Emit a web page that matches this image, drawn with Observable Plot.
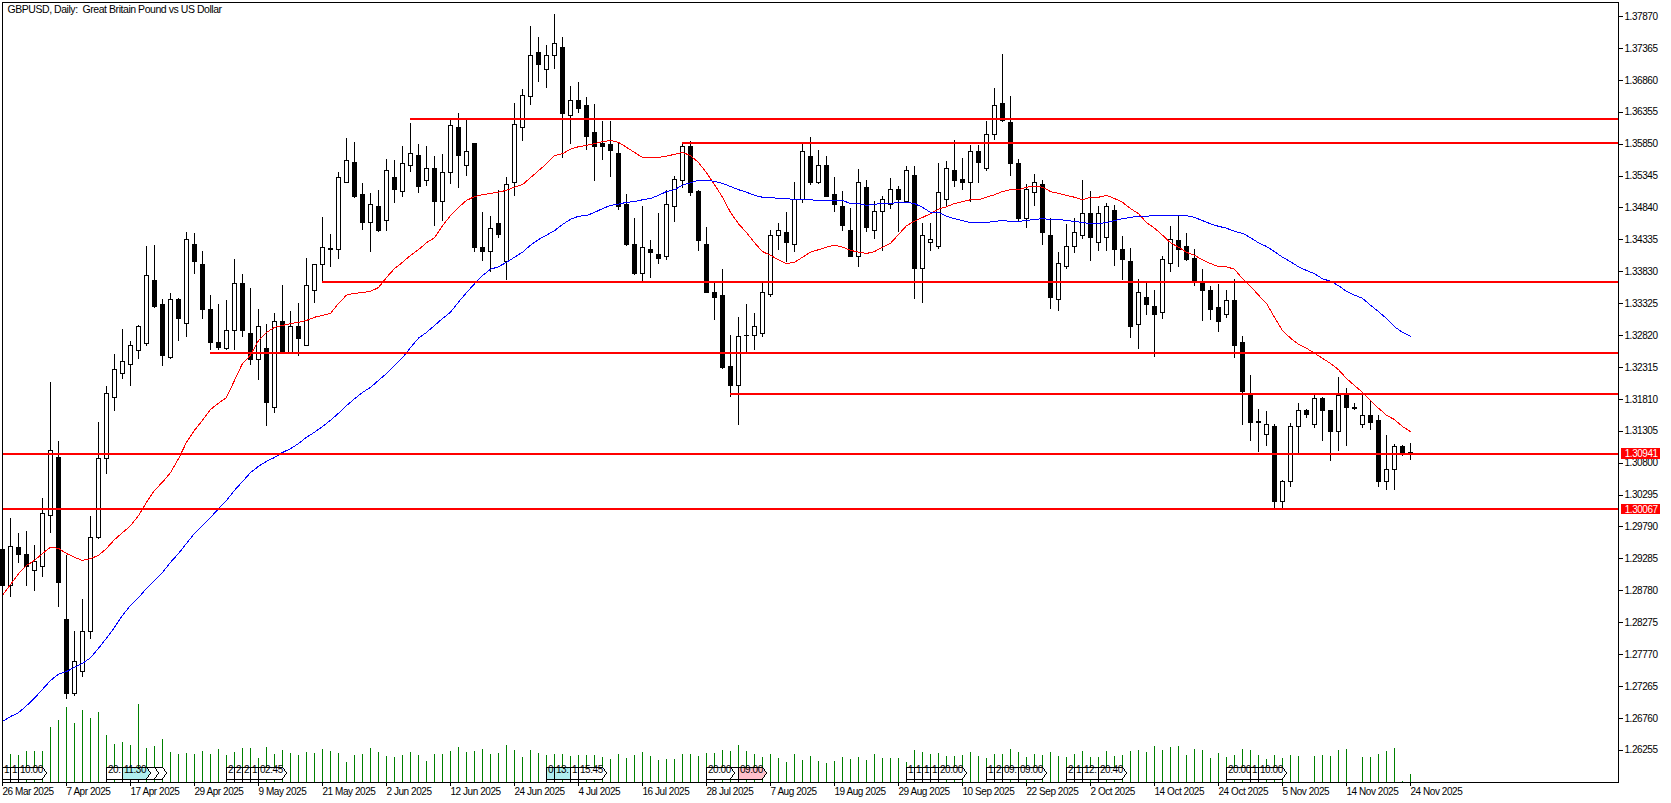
<!DOCTYPE html>
<html>
<head>
<meta charset="utf-8">
<style>
html,body{margin:0;padding:0;background:#fff;}
svg text{white-space:pre;letter-spacing:-0.45px;}
</style>
<script src="https://cdn.jsdelivr.net/npm/d3@7"></script>
<script src="https://cdn.jsdelivr.net/npm/@observablehq/plot@0.6"></script>
</head>
<body>
<div id="chart"></div>
<script>
// Daily GBPUSD, all prices in pips (1e-4 USD)
const opensPips=[
12942,12885,12945,12934,12910,12915,12996,13089,12831,12714,
12749,12812,12962,13086,13183,13221,13235,13257,13268,13368,
13330,13247,13338,13301,13425,13393,13323,13271,13260,13290,
13363,13285,13244,13260,13167,13303,13255,13296,13266,13352,
13393,13418,13418,13523,13556,13504,13461,13485,13464,13532,
13510,13551,13566,13526,13545,13493,13540,13611,13551,13586,
13421,13415,13459,13399,13523,13611,13659,13729,13702,13725,
13738,13630,13654,13645,13603,13585,13583,13570,13488,13426,
13379,13418,13410,13407,13486,13526,13580,13509,13425,13350,
13344,13232,13202,13281,13281,13285,13347,13439,13445,13426,
13497,13564,13523,13551,13504,13485,13448,13406,13516,13448,
13478,13488,13512,13493,13534,13387,13429,13422,13496,13543,
13528,13523,13572,13545,13599,13649,13619,13554,13467,13507,
13521,13439,13338,13390,13422,13439,13475,13429,13437,13480,
13418,13398,13298,13342,13328,13317,13395,13431,13423,13404,
13366,13352,13325,13315,13336,13270,13187,13145,13125,13138,
13018,13050,13137,13163,13140,13181,13162,13130,13186,13168,
13141,13154,13146,13050,13070,13105,13096];
const highsPips=[
12950,12993,12969,12972,12949,13024,13208,13114,12934,12814,
12864,12996,13145,13202,13252,13292,13273,13298,13423,13425,
13339,13349,13341,13445,13444,13415,13346,13331,13338,13402,
13379,13357,13323,13300,13317,13361,13320,13333,13404,13395,
13469,13442,13540,13594,13588,13523,13507,13512,13561,13559,
13581,13618,13585,13581,13566,13569,13623,13634,13623,13586,
13477,13471,13512,13532,13649,13672,13771,13754,13741,13790,
13754,13676,13683,13659,13648,13621,13621,13586,13505,13467,
13486,13433,13475,13512,13534,13586,13589,13512,13453,13364,
13387,13282,13311,13331,13317,13366,13448,13459,13477,13524,
13586,13596,13575,13566,13532,13510,13483,13545,13528,13494,
13502,13531,13518,13550,13550,13459,13459,13554,13558,13591,
13562,13583,13583,13621,13673,13727,13661,13561,13521,13537,
13528,13467,13414,13458,13467,13528,13510,13486,13491,13488,
13439,13420,13371,13368,13353,13407,13455,13472,13444,13418,
13387,13360,13363,13353,13371,13281,13219,13165,13162,13141,
13053,13143,13175,13165,13189,13184,13162,13216,13198,13175,
13192,13178,13156,13124,13110,13108,13111];
const lowsPips=[
12863,12867,12921,12885,12877,12899,12969,12852,12706,12711,
12741,12801,12959,13062,13162,13212,13202,13244,13265,13325,
13233,13244,13273,13279,13379,13308,13258,13258,13258,13258,
13279,13235,13211,13138,13159,13254,13252,13249,13266,13333,
13368,13390,13402,13523,13499,13448,13414,13445,13447,13491,
13501,13540,13507,13518,13455,13463,13521,13515,13534,13414,
13399,13382,13436,13369,13502,13589,13646,13683,13673,13703,
13562,13585,13634,13575,13526,13559,13532,13480,13423,13377,
13364,13372,13395,13401,13461,13515,13502,13415,13350,13306,
13228,13184,13140,13254,13258,13279,13342,13417,13398,13414,
13491,13520,13521,13501,13477,13447,13406,13390,13445,13434,
13415,13482,13445,13493,13339,13333,13415,13418,13485,13516,
13512,13493,13523,13542,13591,13619,13534,13463,13452,13486,
13425,13323,13320,13387,13412,13434,13399,13415,13415,13391,
13369,13277,13260,13314,13247,13308,13382,13390,13399,13360,
13304,13306,13287,13309,13246,13140,13114,13097,13106,13008,
13008,13042,13095,13151,13135,13114,13083,13099,13106,13163,
13135,13132,13042,13037,13037,13091,13084];
const closesPips=[
12885,12948,12934,12915,12923,12999,13099,12890,12714,12765,
12812,12962,13086,13189,13227,13240,13265,13295,13377,13328,
13249,13339,13308,13434,13399,13322,13270,13263,13290,13363,
13289,13243,13296,13175,13304,13255,13296,13276,13361,13393,
13420,13419,13532,13558,13501,13461,13488,13448,13543,13512,
13553,13569,13518,13545,13493,13539,13613,13567,13572,13420,
13415,13450,13442,13521,13615,13662,13725,13710,13725,13743,
13632,13654,13640,13597,13581,13581,13575,13485,13425,13379,
13420,13412,13404,13488,13529,13580,13507,13431,13350,13342,
13230,13202,13279,13282,13295,13349,13439,13448,13429,13497,
13573,13524,13551,13501,13488,13455,13407,13523,13452,13478,
13497,13512,13497,13543,13387,13439,13433,13507,13545,13526,
13524,13572,13556,13599,13646,13621,13554,13466,13512,13523,
13444,13341,13396,13423,13444,13475,13436,13474,13485,13417,
13401,13295,13350,13330,13315,13401,13433,13418,13402,13366,
13352,13323,13303,13336,13266,13192,13143,13144,13140,13018,
13050,13137,13163,13157,13181,13162,13130,13186,13167,13165,
13154,13144,13050,13070,13105,13095,13095];
const fastMAPips=[
12871,12888,12905,12918,12926,12937,12947,12945,12937,12931,
12926,12929,12934,12945,12959,12970,12981,12997,13018,13037,
13050,13065,13087,13113,13132,13148,13165,13175,13184,13211,
13238,13251,13274,13287,13295,13298,13301,13303,13306,13311,
13314,13317,13333,13346,13349,13350,13352,13358,13374,13388,
13398,13409,13418,13429,13437,13456,13472,13485,13496,13502,
13505,13507,13509,13512,13517,13521,13532,13543,13554,13567,
13570,13577,13581,13583,13586,13589,13591,13588,13580,13572,
13564,13564,13564,13566,13569,13572,13567,13556,13540,13521,
13501,13477,13459,13445,13429,13415,13409,13402,13396,13398,
13406,13414,13418,13422,13425,13422,13417,13414,13412,13415,
13422,13428,13442,13456,13463,13469,13475,13482,13486,13491,
13494,13497,13497,13501,13505,13510,13513,13513,13517,13518,
13517,13510,13507,13504,13501,13497,13501,13501,13504,13499,
13493,13483,13475,13461,13452,13441,13429,13422,13414,13409,
13402,13396,13391,13391,13387,13372,13360,13346,13333,13311,
13290,13278,13268,13262,13254,13246,13238,13228,13214,13203,
13192,13179,13167,13156,13149,13138,13130];
const slowMAPips=[
12671,12679,12685,12696,12708,12722,12736,12746,12750,12757,
12763,12772,12787,12803,12820,12839,12855,12867,12882,12894,
12907,12923,12937,12953,12969,12981,12994,13008,13021,13037,
13051,13065,13075,13083,13089,13097,13103,13111,13121,13129,
13138,13148,13159,13171,13182,13192,13200,13211,13222,13235,
13247,13263,13278,13287,13298,13309,13319,13335,13350,13364,
13377,13387,13391,13398,13406,13414,13425,13434,13441,13448,
13458,13466,13471,13472,13477,13483,13488,13490,13493,13494,
13497,13499,13504,13510,13513,13520,13524,13528,13528,13526,
13523,13518,13513,13509,13504,13501,13501,13499,13499,13497,
13497,13497,13496,13496,13496,13496,13491,13491,13488,13490,
13491,13491,13493,13493,13491,13485,13477,13477,13471,13467,
13464,13461,13461,13461,13463,13464,13463,13463,13464,13466,
13467,13466,13466,13464,13463,13461,13459,13459,13461,13464,
13467,13469,13471,13471,13472,13472,13472,13472,13472,13469,
13464,13459,13455,13452,13447,13444,13437,13429,13423,13415,
13406,13399,13391,13385,13380,13372,13368,13361,13352,13346,
13341,13330,13320,13309,13296,13287,13281];
const tickVolumes=[
30,28,27,31,31,31,55,62,75,59,
72,64,70,47,38,40,37,78,34,36,
43,30,28,29,28,31,28,33,27,30,
34,34,24,35,28,32,29,27,30,29,
33,31,29,20,27,28,34,30,26,25,
27,30,27,21,28,28,31,35,30,31,
33,28,29,37,32,25,32,29,27,28,
28,26,27,27,27,25,23,28,24,27,
30,26,22,23,23,28,28,26,29,29,
32,31,37,31,28,25,28,24,20,28,
22,26,21,19,21,25,23,25,22,28,
24,24,24,20,32,30,28,29,26,26,
27,30,26,24,28,28,33,30,25,28,
27,30,26,25,28,31,25,25,31,26,
27,31,32,30,36,32,35,36,27,33,
32,24,29,25,27,33,32,27,23,27,
24,27,26,0,26,27,26,32,33,0,
25,25,28,31,34,1,8];

const dateLabels=["26 Mar 2025","7 Apr 2025","17 Apr 2025","29 Apr 2025","9 May 2025","21 May 2025","2 Jun 2025","12 Jun 2025","24 Jun 2025","4 Jul 2025","16 Jul 2025","28 Jul 2025","7 Aug 2025","19 Aug 2025","29 Aug 2025","10 Sep 2025","22 Sep 2025","2 Oct 2025","14 Oct 2025","24 Oct 2025","5 Nov 2025","14 Nov 2025","24 Nov 2025"];
const dateBars=dateLabels.map((_,k)=>k*8);
const priceTicks=[1.37870,1.37365,1.36860,1.36355,1.35850,1.35345,1.34840,1.34335,1.33830,1.33325,1.32820,1.32315,1.31810,1.31305,1.30800,1.30295,1.29790,1.29285,1.28780,1.28275,1.27770,1.27265,1.26760,1.26255];

const levelPrices=[1.36241,1.35861,1.33676,1.32537,1.31888,1.30941,1.30067];
const levelStarts=[51,85,40,26,91,0,0];
const taggedPrices=[1.30941,1.30067];
const bidPrice=1.30950;

// Calendar-event flags: bar, visible text, background (listed in stacking order)
const eventBars=[0,1,2,17,16,13,15,28,29,30,31,32,68,69,71,72,89,88,92,113,114,115,116,117,123,124,125,127,133,134,135,137,153,156,157];
const eventTexts=["1","1","10:00","","","20:","11:30","2","2","2","1","02:45","0","13:","1","15:45","","20:00","09:00","1","1","1","1","20:00","1","2","09:","09:00","2","1","12:","20:40","20:00","1","10:00"];
const eventFills=eventBars.map(b=>[15,68,69].includes(b)?"#afeeee":b===92?"#ffc0cb":"#ffffff");

const titleText="GBPUSD, Daily:  Great Britain Pound vs US Dollar";
const font="'Liberation Sans',sans-serif";

const bars=opensPips.map((o,i)=>({i,open:o/1e4,high:highsPips[i]/1e4,low:lowsPips[i]/1e4,close:closesPips[i]/1e4,vol:tickVolumes[i]}));
const fast=fastMAPips.map((p,i)=>({i,p:p/1e4}));
const slow=slowMAPips.map((p,i)=>({i,p:p/1e4}));
const levels=levelPrices.map((p,k)=>({p,start:levelStarts[k]}));
const events=eventBars.map((bar,k)=>({bar,text:eventTexts[k],fill:eventFills[k]}));

const yFloor=1.25745, yCeil=1.38093, xEnd=202;
const volumeUnit=0.00015831;          // volume pane shares the frame
const tagX1=xEnd+0.4, tagX2=xEnd+5.25;

const flag={draw(c){
  c.moveTo(0,-4);c.lineTo(24,-4);c.lineTo(28,-10);c.lineTo(24,-16);c.lineTo(0,-16);c.closePath();
  c.moveTo(0,-4);c.lineTo(0,0);
}};

const chart=Plot.plot({
  width:1671,height:803,
  marginLeft:2,marginRight:53,marginTop:2,marginBottom:21,
  x:{domain:[0,xEnd]},
  y:{domain:[yFloor,yCeil]},
  style:{fontFamily:font,fontSize:"10px",color:"black",background:"white",overflow:"visible"},
  marks:[
    // volume
    Plot.ruleX(bars,{x:"i",y1:yFloor,y2:d=>yFloor+d.vol*volumeUnit,stroke:"#008000",strokeWidth:1}),
    // candles
    Plot.ruleX(bars,{x:"i",y1:"low",y2:"high",stroke:"black",strokeWidth:1}),
    Plot.rect(bars.filter(d=>d.close>=d.open),{x1:d=>d.i-0.25,x2:d=>d.i+0.25,y1:"open",y2:"close",fill:"white",stroke:"black",strokeWidth:1}),
    Plot.rect(bars.filter(d=>d.close<d.open),{x1:d=>d.i-0.25,x2:d=>d.i+0.25,y1:"open",y2:"close",fill:"black",stroke:"black",strokeWidth:1}),
    // moving averages
    Plot.line(fast,{x:"i",y:"p",stroke:"#ff0000",strokeWidth:1}),
    Plot.line(slow,{x:"i",y:"p",stroke:"#0000ff",strokeWidth:1}),
    // price lines
    Plot.ruleY([bidPrice],{stroke:"#c0c0c0",strokeWidth:1}),
    Plot.ruleY(levels,{y:"p",x1:"start",x2:()=>xEnd,stroke:"#ff0000",strokeWidth:2}),
    // flags
    ...events.flatMap(e=>[
      Plot.dot([e],{x:"bar",frameAnchor:"bottom",dy:0.5,symbol:flag,fill:e.fill,stroke:"black",strokeWidth:1}),
      Plot.text([e],{x:"bar",text:"text",frameAnchor:"bottom",dx:1.5,dy:-10,textAnchor:"start",fill:"black",fontSize:10})
    ]),
    Plot.frame({stroke:"black",strokeWidth:1}),
    Plot.axisX({ticks:dateBars,tickFormat:b=>dateLabels[b/8],anchor:"bottom",tickSize:4,tickPadding:1,textAnchor:"start",label:null,fontSize:10}),
    Plot.axisY({ticks:priceTicks,tickFormat:d3.format(".5f"),anchor:"right",tickSize:4,tickPadding:2,label:null,fontSize:10}),
    // price tags
    Plot.rect([bidPrice],{x1:()=>tagX1,x2:()=>tagX2,y1:d=>d-0.00085,y2:d=>d+0.00085,fill:"#c0c0c0"}),
    Plot.rect(taggedPrices,{x1:()=>tagX1,x2:()=>tagX2,y1:d=>d-0.00085,y2:d=>d+0.00085,fill:"#ff0000"}),
    Plot.text(taggedPrices,{x:()=>tagX1,y:d=>d,text:d=>d.toFixed(5),dx:3,textAnchor:"start",fill:"white",fontSize:10}),
    Plot.text([titleText],{frameAnchor:"top-left",dx:5,dy:3,text:d=>d,fill:"black",fontSize:10.5})
  ]
});
chart.setAttribute("shape-rendering","crispEdges");
document.getElementById("chart").appendChild(chart);
</script>
</body>
</html>
